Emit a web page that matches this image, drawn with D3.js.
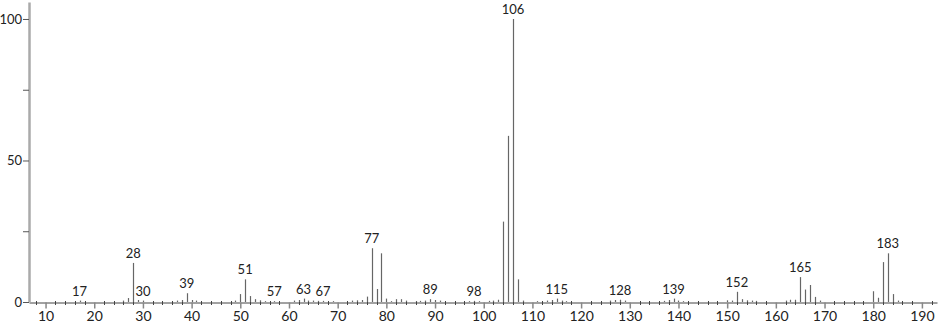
<!DOCTYPE html>
<html>
<head>
<meta charset="utf-8">
<script src="https://cdn.jsdelivr.net/npm/d3@7"></script>
<style>
  body { margin: 0; background: #fff; }
  text { font-family: "Lato", "Liberation Sans", sans-serif; fill: #222; }
</style>
</head>
<body>
<div id="spectrum"></div>
<script>
// m/z values and relative intensities
var mz = [17, 26, 27, 28, 29, 30, 37, 38, 39, 40, 41, 49, 50, 51, 52, 53, 54, 55, 57,
  61, 62, 63, 64, 65, 66, 67, 69, 73, 74, 75, 76, 77, 78, 79, 80, 81, 82, 83, 84,
  86, 87, 88, 89, 90, 91, 97, 98, 99, 101, 102, 103, 104, 105, 106, 107, 108,
  111, 113, 114, 115, 116, 117, 126, 127, 128, 129, 137, 138, 139, 140, 141,
  150, 151, 152, 153, 154, 155, 156, 162, 163, 164, 165, 166, 167, 168, 169,
  180, 181, 182, 183, 184, 185];
var intensity = [0.5, 0.5, 1.4, 13.8, 0.7, 0.5, 0.5, 0.7, 3.1, 0.7, 0.5, 0.5, 2.8, 8.0, 2.1, 1.0, 0.6, 0.3, 0.3,
  0.5, 0.7, 1.2, 0.5, 0.5, 0.4, 0.4, 0.3, 0.5, 0.6, 0.7, 1.9, 19.0, 4.6, 17.2, 1.2, 0.3, 1.0, 1.0, 0.5,
  0.3, 0.4, 0.5, 1.0, 0.7, 0.5, 0.3, 0.4, 0.3, 0.4, 0.5, 0.8, 28.4, 58.7, 100, 8.0, 0.5,
  0.3, 0.5, 0.7, 1.2, 0.5, 0.3, 0.5, 0.7, 0.8, 0.5, 0.4, 0.7, 1.2, 0.5, 0.3,
  0.6, 0.5, 3.6, 1.0, 0.6, 0.5, 0.4, 0.5, 0.8, 0.8, 8.8, 4.4, 6.0, 1.8, 0.5,
  3.8, 1.5, 14.1, 17.2, 2.8, 0.5];
var labelled = [17, 28, 30, 39, 51, 57, 63, 67, 77, 89, 98, 106, 115, 128, 139, 152, 165, 183];
var xTicks = [10, 20, 30, 40, 50, 60, 70, 80, 90, 100, 110, 120, 130, 140, 150, 160, 170, 180, 190];
var yTicks = [0, 50, 100];

var width = 940, height = 324;
var svg = d3.select("#spectrum").append("svg")
  .attr("width", width)
  .attr("height", height);

var x = d3.scaleLinear().domain([6.6, 193.1]).range([29, 937]);
var y = d3.scaleLinear().domain([0, 106]).range([302, 2]);

var peaks = mz.map(function(m, i){ return {mz: m, val: intensity[i]}; });
var lookup = new Map(peaks.map(function(d){ return [d.mz, d.val]; }));

// minor ticks every 2 units below the baseline
var minor = d3.range(8, 193, 2).filter(function(v){ return v % 10 != 0; });
svg.append("g").selectAll("line")
  .data(minor)
  .enter().append("line")
  .attr("x1", function(d){ return Math.round(x(d)) + 0.5; })
  .attr("x2", function(d){ return Math.round(x(d)) + 0.5; })
  .attr("y1", y(0) - 1)
  .attr("y2", y(0) + 3)
  .attr("stroke", "#444");

// x axis
var xAxis = d3.axisBottom(x).tickValues(xTicks).tickSize(6).tickPadding(3).tickSizeOuter(0);
var gx = svg.append("g")
  .attr("transform", "translate(0," + (y(0) + 0.5) + ")")
  .call(xAxis);
gx.select(".domain").attr("stroke", "#444");
gx.selectAll(".tick line").attr("stroke", "#888").attr("stroke-width", 1.5);
gx.selectAll(".tick text").style("font-size", "14px").attr("fill", "#222");

// y axis
var yAxis = d3.axisLeft(y).tickValues([0, 25, 50, 75, 100]).tickSize(6).tickPadding(1).tickSizeOuter(0)
  .tickFormat(function(d){ return yTicks.indexOf(d) >= 0 ? d : ""; });
var gy = svg.append("g")
  .attr("transform", "translate(29,0)")
  .call(yAxis);
gy.select(".domain").attr("stroke", "#aaa").attr("stroke-width", 2.5);
gy.selectAll(".tick line").attr("stroke", "#555");
gy.selectAll(".tick text").style("font-size", "13px").attr("fill", "#222");

// peaks
svg.append("g").selectAll("line")
  .data(peaks)
  .enter().append("line")
  .attr("x1", function(d){ return Math.round(x(d.mz)) + 0.5; })
  .attr("x2", function(d){ return Math.round(x(d.mz)) + 0.5; })
  .attr("y1", y(0))
  .attr("y2", function(d){ return y(d.val); })
  .attr("stroke", "#666")
  .attr("stroke-width", 1.2);

// peak labels
svg.append("g").selectAll("text")
  .data(labelled)
  .enter().append("text")
  .attr("x", function(d){ return x(d); })
  .attr("y", function(d){ return y(lookup.get(d) || 0) - 5; })
  .attr("text-anchor", "middle")
  .style("font-size", "13px")
  .text(function(d){ return d; });
</script>
</body>
</html>
